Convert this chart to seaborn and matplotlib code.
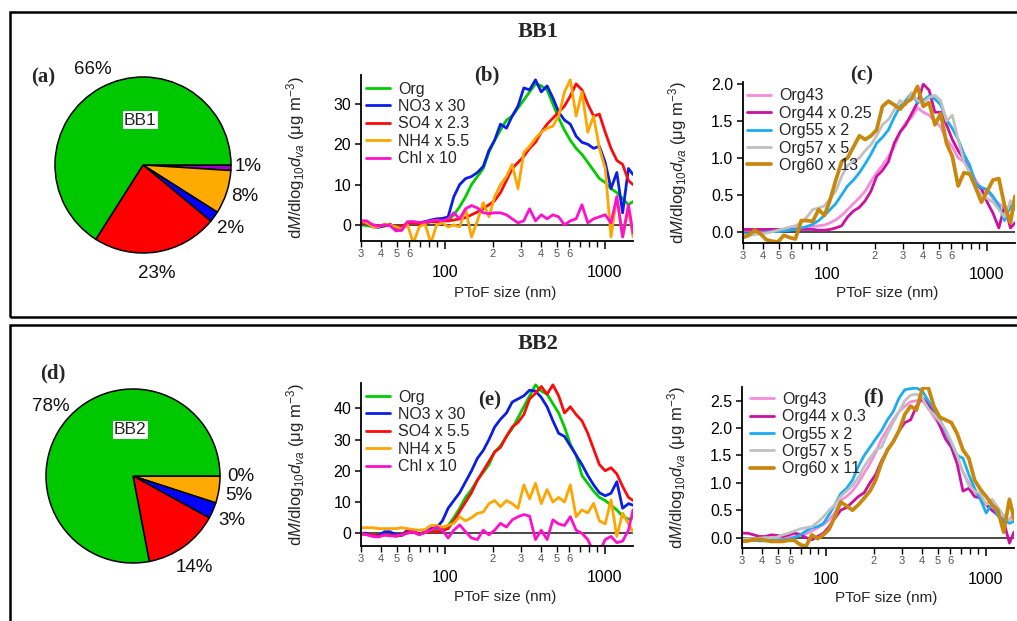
import numpy as np
import pandas as pd
import matplotlib
matplotlib.use("Agg")
import matplotlib.pyplot as plt
import seaborn as sns
from matplotlib.ticker import FixedLocator, FuncFormatter
from matplotlib.patches import Rectangle

sns.set_theme(style="ticks")
plt.rcParams["font.family"] = ["Liberation Sans", "DejaVu Sans"]
plt.rcParams["mathtext.fontset"] = "custom"
plt.rcParams["mathtext.rm"] = "Liberation Sans"
plt.rcParams["mathtext.it"] = "Liberation Sans:italic"
plt.rcParams["mathtext.bf"] = "Liberation Sans:bold"

# ---------------- data ----------------
size_nm = [30, 32.6, 35.5, 38.6, 42.0, 45.6, 49.6, 53.9, 58.6, 63.7, 69.3, 75.3,
           81.9, 89.0, 96.8, 105, 114, 124, 135, 147, 160, 174, 189, 205,
           223, 243, 264, 287, 312, 339, 369, 401, 436, 474, 515, 560,
           609, 662, 720, 783, 851, 925, 1006, 1093, 1189, 1292, 1405, 1500]

pie_species = ["Chl", "NH4", "NO3", "SO4", "Org"]
bb1_pct = [1, 8, 2, 23, 66]
bb2_pct = [0, 5, 3, 14, 78]
pie_colors = ["#A000C8", "#FFAA00", "#0000FF", "#FF0000", "#00C800"]

# panel (b) BB1 species
b_names = ["Org", "NO3 x 30", "SO4 x 2.3", "NH4 x 5.5", "Chl x 10"]
b_org = [0.0, -0.2, -0.4, -0.5, -0.3, 0.0, -0.8, -1.0, 0.2, 0.4, 0.3, 0.5, 0.8, 1.0, 1.2, 1.0,
         2.5, 4.5, 7.0, 10.0, 12.0, 14.0, 18.0, 21.0, 23.5, 26.0, 27.0, 29.0, 31.0, 33.0, 35.0, 34.5,
         33.5, 30.0, 26.5, 23.5, 21.0, 19.0, 17.5, 15.5, 13.5, 11.5, 10.5, 9.0, 8.0, 6.5, 5.0, 5.8]
b_no3 = [0.2, 0.3, -0.5, -0.6, -0.2, 0.2, -1.2, -1.3, 0.6, 0.7, 0.5, 0.8, 1.2, 1.5, 1.6, 2.0,
         7.0, 10.0, 11.5, 12.0, 13.0, 14.5, 18.5, 21.0, 25.0, 24.0, 27.0, 29.5, 34.0, 33.5, 36.0, 33.0,
         34.5, 31.5, 28.0, 26.0, 25.0, 22.0, 20.5, 20.0, 19.0, 19.5, 15.5, 9.0, 13.0, 3.0, 14.0, 12.5]
b_so4 = [0.5, 0.3, 0.0, -0.2, -0.2, 0.0, -0.5, -0.3, 0.3, 0.4, 0.3, 0.5, 0.8, 0.7, 1.0, 1.0,
         1.2, 1.5, 1.8, 2.5, 3.2, 4.0, 5.0, 6.0, 8.0, 11.0, 14.0, 15.5, 17.0, 19.0, 20.5, 23.0,
         25.0, 26.5, 28.0, 29.5, 32.0, 35.0, 33.5, 30.0, 27.0, 27.5, 23.0, 19.0, 16.0, 15.0, 11.0, 10.0]
b_nh4 = [1.0, 0.5, -0.5, -0.5, 0.2, 0.0, -0.5, -1.0, 0.0, -4.5, -0.5, 0.3, -4.5, 0.0, 0.5, -0.5,
         0.0, -0.5, 4.0, -3.0, 1.0, 5.5, 2.0, 7.0, 10.0, 12.0, 15.0, 9.0, 18.0, 19.5, 21.5, 23.0,
         24.0, 24.5, 27.0, 33.0, 36.0, 27.0, 33.0, 23.0, 27.0, 19.0, 14.0, -3.0, 7.0, -3.0, 4.0, -3.0]
b_chl = [1.0, 1.0, 0.0, -0.3, 0.0, -0.2, -1.5, -1.3, 0.8, 0.8, 0.6, 0.7, 1.0, 1.2, 1.0, 1.5,
         3.0, 1.5, 4.0, 4.8, 4.2, 3.0, 2.8, 3.0, 3.0, 2.5, 1.5, 0.5, 1.0, 4.0, 1.0, 2.5,
         1.5, 2.5, 2.0, 0.0, 1.0, 1.5, 5.0, 0.5, 1.5, 2.0, 2.5, 0.5, 7.0, -3.0, 5.0, -2.0]

# panel (c) BB1 organic fragments
c_names = ["Org43", "Org44 x 0.25", "Org55 x 2", "Org57 x 5", "Org60 x 13"]
c_org43 = [0.02, 0.02, 0.02, 0.02, 0.02, 0.03, 0.03, 0.03, 0.04, 0.05, 0.05, 0.06, 0.07, 0.08, 0.09, 0.12,
           0.16, 0.22, 0.30, 0.38, 0.46, 0.55, 0.68, 0.80, 0.90, 1.02, 1.15, 1.35, 1.48, 1.55, 1.68, 1.62,
           1.58, 1.50, 1.42, 1.25, 1.15, 1.00, 0.95, 0.85, 0.70, 0.58, 0.55, 0.45, 0.38, 0.32, 0.30, 0.45]
c_org44 = [0.03, 0.03, 0.03, 0.03, 0.03, 0.03, 0.03, 0.03, 0.03, 0.03, 0.03, 0.03, 0.03, 0.02, 0.02, 0.03,
           0.05, 0.08, 0.20, 0.28, 0.33, 0.42, 0.55, 0.75, 0.83, 0.95, 1.20, 1.35, 1.45, 1.60, 1.75, 2.00,
           1.92, 1.62, 1.62, 1.45, 1.25, 1.10, 0.98, 0.80, 0.65, 0.58, 0.40, 0.25, 0.05, 0.35, 0.05, 0.12]
c_org55 = [-0.03, -0.03, -0.02, -0.02, -0.01, 0.0, 0.0, 0.01, 0.02, 0.03, 0.05, 0.07, 0.10, 0.15, 0.22, 0.30,
           0.38, 0.50, 0.62, 0.70, 0.80, 0.92, 1.05, 1.20, 1.28, 1.38, 1.55, 1.70, 1.78, 1.88, 1.75, 1.78,
           1.84, 1.80, 1.72, 1.52, 1.40, 1.25, 1.05, 0.90, 0.65, 0.60, 0.57, 0.48, 0.35, 0.15, 0.35, 0.30]
c_org57 = [-0.05, -0.05, -0.04, -0.03, -0.02, 0.0, 0.02, 0.04, 0.06, 0.08, 0.12, 0.20, 0.30, 0.32, 0.35, 0.45,
           0.55, 0.75, 0.90, 0.95, 1.00, 1.10, 1.18, 1.30, 1.45, 1.52, 1.65, 1.78, 1.72, 1.88, 1.78, 1.75,
           1.82, 1.85, 1.78, 1.50, 1.58, 1.25, 0.95, 0.80, 0.60, 0.50, 0.45, 0.40, 0.30, 0.20, 0.42, 0.35]
c_org60 = [-0.08, -0.05, 0.02, -0.03, -0.11, -0.13, -0.14, -0.05, -0.08, -0.10, 0.15, 0.15, 0.14, 0.30, 0.22, 0.43,
           0.70, 0.95, 1.00, 1.15, 1.30, 1.25, 1.30, 1.38, 1.70, 1.77, 1.72, 1.66, 1.75, 1.80, 1.97, 1.70,
           1.75, 1.45, 1.60, 1.20, 1.02, 0.62, 0.80, 0.78, 0.60, 0.40, 0.55, 0.70, 0.72, 0.35, 0.12, 0.48]

# panel (e) BB2 species
e_names = ["Org", "NO3 x 30", "SO4 x 5.5", "NH4 x 5", "Chl x 10"]
e_org = [0.0, 0.0, -0.3, -0.8, -0.5, -0.8, -0.5, -0.8, 0.3, 0.5, -0.3, 0.2, 0.8, 1.0, 1.5, 2.5,
         5.0, 8.0, 11.5, 14.0, 17.0, 19.5, 22.0, 26.0, 28.0, 31.0, 33.5, 37.0, 40.5, 44.0, 47.5, 45.5,
         44.5, 41.5, 38.5, 34.0, 28.5, 25.0, 18.5, 16.0, 13.5, 11.5, 10.5, 9.0, 7.5, 5.5, 4.5, 5.0]
e_no3 = [0.0, 0.0, -0.5, -0.8, 0.5, 0.5, -0.5, -0.5, 1.0, 0.8, -0.3, 0.5, 1.5, 1.8, 4.0, 8.0,
         10.5, 13.0, 16.5, 20.0, 24.0, 26.5, 30.0, 34.0, 36.5, 38.5, 42.0, 43.0, 44.0, 45.8, 45.5, 43.5,
         40.5, 36.0, 32.0, 31.0, 28.0, 25.0, 22.0, 18.5, 15.5, 13.0, 12.0, 12.8, 16.5, 8.0, 9.5, 9.0]
e_so4 = [-0.3, -0.3, -0.5, -1.0, -0.5, -0.5, -1.0, -0.5, 0.5, 0.3, -0.3, 0.3, 0.5, 0.5, 0.8, 1.5,
         4.0, 7.0, 10.0, 13.0, 17.0, 20.0, 23.0, 26.0, 27.5, 31.0, 34.0, 35.5, 38.0, 43.0, 44.8, 47.0,
         44.5, 47.5, 44.0, 38.5, 40.5, 38.0, 36.0, 32.0, 27.0, 22.0, 20.0, 21.0, 19.0, 15.0, 11.5, 10.5]
e_nh4 = [1.8, 1.8, 1.8, 1.5, 1.5, 1.5, 1.5, 1.8, 1.5, 1.2, 1.0, 1.2, 2.5, 2.5, 2.0, 2.5,
         3.2, 5.3, 4.0, 5.0, 6.4, 6.8, 9.5, 10.5, 8.5, 10.5, 9.5, 8.0, 15.5, 11.0, 16.0, 9.5,
         14.0, 10.0, 11.5, 10.0, 15.5, 5.3, 7.5, 6.5, 9.6, 4.0, 3.0, 10.7, -1.0, 6.5, 3.0, 0.5]
e_chl = [0.0, -0.5, -1.0, -1.2, -0.5, -0.8, -0.8, -0.5, 0.0, 0.5, -0.5, 0.3, 1.0, 2.0, 1.0, -1.5,
         1.0, 2.7, 0.5, -1.5, -2.0, 1.0, -0.5, 1.0, 3.2, 2.0, 4.3, 5.3, 6.0, 5.5, -2.0, 1.0,
         -2.0, 4.3, 3.0, 2.5, 5.3, 1.0, 0.0, -2.0, -6.0, -6.0, -2.0, -1.0, -3.0, -2.5, 1.0, 7.5]

# panel (f) BB2 organic fragments
f_names = ["Org43", "Org44 x 0.3", "Org55 x 2", "Org57 x 5", "Org60 x 11"]
f_org43 = [-0.05, -0.04, -0.03, -0.02, -0.02, -0.01, 0.0, 0.0, 0.01, 0.02, 0.04, 0.07, 0.12, 0.18, 0.24, 0.32,
           0.45, 0.68, 0.75, 0.85, 1.00, 1.18, 1.35, 1.55, 1.80, 1.98, 2.15, 2.30, 2.40, 2.48, 2.50, 2.50,
           2.38, 2.20, 2.05, 1.85, 1.65, 1.42, 1.20, 1.00, 0.85, 0.72, 0.60, 0.50, 0.40, 0.35, 0.32, 0.45]
f_org44 = [0.08, 0.08, 0.05, 0.02, 0.02, 0.05, 0.04, 0.02, 0.05, 0.08, 0.06, 0.00, -0.04, 0.02, 0.08, 0.20,
           0.35, 0.50, 0.55, 0.65, 0.75, 0.82, 1.00, 1.15, 1.40, 1.60, 1.75, 1.95, 2.10, 2.15, 2.40, 2.55,
           2.45, 2.30, 2.05, 1.80, 1.65, 1.35, 0.85, 0.90, 0.75, 0.72, 0.60, 0.50, 0.42, 0.30, -0.10, 0.10]
f_org55 = [-0.05, -0.05, -0.05, -0.06, -0.06, -0.05, -0.05, -0.04, -0.03, 0.00, 0.05, 0.12, 0.18, 0.20, 0.26, 0.42,
           0.60, 0.80, 0.90, 1.05, 1.30, 1.50, 1.65, 1.80, 1.95, 2.15, 2.30, 2.55, 2.70, 2.72, 2.73, 2.68,
           2.50, 2.35, 2.15, 1.95, 1.72, 1.50, 1.45, 1.15, 0.90, 0.70, 0.45, 0.62, 0.40, 0.32, 0.26, 0.30]
f_org57 = [-0.03, -0.02, -0.02, -0.01, 0.00, 0.00, 0.01, 0.05, 0.08, 0.12, 0.16, 0.18, 0.20, 0.28, 0.38, 0.50,
           0.60, 0.75, 0.85, 0.95, 1.10, 1.30, 1.45, 1.60, 1.65, 1.90, 2.10, 2.30, 2.50, 2.60, 2.62, 2.55,
           2.35, 2.25, 2.12, 1.98, 1.75, 1.50, 1.20, 0.95, 0.85, 0.80, 0.60, 0.70, 0.55, 0.40, 0.32, 0.35]
f_org60 = [-0.07, -0.06, -0.04, -0.03, -0.05, -0.07, -0.07, -0.07, -0.05, -0.05, -0.13, -0.16, 0.05, -0.02, 0.05, 0.15,
           0.38, 0.65, 0.58, 0.50, 0.60, 0.72, 0.85, 1.05, 1.36, 1.60, 1.75, 1.95, 2.25, 2.40, 2.33, 2.72,
           2.75, 2.40, 2.20, 2.15, 2.10, 1.90, 1.60, 1.45, 1.05, 0.88, 0.75, 0.60, 0.50, 0.10, 0.70, 0.35]

species_colors = ["#00CC00", "#0A1EE8", "#FF0A0A", "#FFA500", "#FF10CC"]
frag_colors = ["#F58CDC", "#CC10A0", "#1AAEF0", "#C0C0C0", "#C8880E"]

# ---------------- figure ----------------
W, H = 1017, 621
fig = plt.figure(figsize=(W / 100, H / 100), dpi=100)
fig.patch.set_facecolor("white")


def px_axes(left, top, right, bottom):
    return fig.add_axes([left / W, 1 - bottom / H, (right - left) / W, (bottom - top) / H])


SERIF = ["Liberation Serif", "DejaVu Serif"]

# boxes
fig.add_artist(Rectangle((10 / W, 1 - 317 / H), 1030 / W, 305 / H, transform=fig.transFigure,
                         fill=False, lw=1.8, ec="black", clip_on=False))
fig.add_artist(Rectangle((10 / W, 1 - 650 / H), 1030 / W, 325 / H, transform=fig.transFigure,
                         fill=False, lw=1.8, ec="black", clip_on=False))

fig.text(538 / W, 1 - 32 / H, "BB1", ha="center", va="center", fontsize=16, fontweight="bold", family=SERIF)
fig.text(538 / W, 1 - 344 / H, "BB2", ha="center", va="center", fontsize=16, fontweight="bold", family=SERIF)


def draw_pie(cx, cy, r, pct, label_pos, name, name_pos):
    half = 1.5 * r
    ax = px_axes(cx - half, cy - half, cx + half, cy + half)
    ax.pie(pct, colors=pie_colors, startangle=0, counterclock=False,
           wedgeprops=dict(edgecolor="black", linewidth=1.1))
    ax.set_xlim(-1.5, 1.5)
    ax.set_ylim(-1.5, 1.5)
    ax.set_aspect("equal")
    ax.axis("off")
    for p, (x, y) in zip(pct, label_pos):
        ax.text(x, y, f"{p}%", ha="center", va="center", fontsize=13.5, color="#111111")
    ax.text(name_pos[0], name_pos[1], name, ha="center", va="center", fontsize=12.5,
            bbox=dict(facecolor="white", edgecolor="none", pad=1.0))
    return ax


draw_pie(143, 165, 88, bb1_pct,
         [(1.19, -0.02), (1.16, -0.36), (0.99, -0.72), (0.16, -1.23), (-0.57, 1.09)],
         "BB1", (-0.03, 0.51))
draw_pie(133, 476, 87, bb2_pct,
         [(1.24, -0.01), (1.21, -0.22), (1.14, -0.51), (0.71, -1.05), (-0.95, 0.80)],
         "BB2", (-0.03, 0.53))

minor_ticks = [30, 40, 50, 60, 70, 80, 90, 200, 300, 400, 500, 600, 700, 800, 900]
minor_text = {30: "3", 40: "4", 50: "5", 60: "6", 200: "2", 300: "3", 400: "4", 500: "5", 600: "6"}
ylab = r"d$\mathit{M}$/dlog$_{10}$$\mathit{d}_{va}$ (μg m$^{-3}$)"


def line_panel(box, series, names, colors, ylim, yticks, yfmt, leg_anchor, thick_last):
    ax = px_axes(*box)
    n = len(size_nm)
    df = pd.DataFrame({
        "size": np.tile(np.array(size_nm, dtype=float), len(names)),
        "value": np.concatenate([np.array(s, dtype=float) for s in series]),
        "series": np.repeat(names, n),
    })
    sns.lineplot(data=df, x="size", y="value", hue="series", hue_order=names,
                 palette=dict(zip(names, colors)), linewidth=2.0, estimator=None,
                 sort=False, ax=ax)
    for i, ln in enumerate(ax.lines[:len(names)]):
        if thick_last and i == len(names) - 1:
            ln.set_linewidth(2.7)
    ax.axhline(0, color="#3a3a3a", lw=1.3, zorder=1.5)
    ax.set_xscale("log")
    ax.set_xlim(30, 1500)
    ax.set_ylim(*ylim)
    ax.xaxis.set_major_locator(FixedLocator([100, 1000]))
    ax.xaxis.set_major_formatter(FuncFormatter(lambda v, p: f"{int(round(v))}"))
    ax.xaxis.set_minor_locator(FixedLocator(minor_ticks))
    ax.xaxis.set_minor_formatter(FuncFormatter(lambda v, p: minor_text.get(int(round(v)), "")))
    ax.set_yticks(yticks)
    ax.yaxis.set_major_formatter(FuncFormatter(lambda v, p: yfmt.format(v)))
    ax.tick_params(axis="x", which="major", length=6, width=1.1, pad=11, labelsize=11.5, colors="black")
    ax.tick_params(axis="x", which="minor", length=4, width=1.0, pad=2, labelsize=8,
                   labelcolor="#555555", color="black")
    ax.tick_params(axis="y", which="major", length=4, width=1.1, pad=3, labelsize=11.5, colors="black")
    sns.despine(ax=ax)
    for sp in ("left", "bottom"):
        ax.spines[sp].set_linewidth(1.3)
        ax.spines[sp].set_color("black")
    ax.set_facecolor("none")
    ax.set_xlabel("PToF size (nm)", fontsize=11)
    ax.set_ylabel(ylab, fontsize=12)
    ax.xaxis.set_label_coords(0.53, -0.27)
    ax.yaxis.set_label_coords(-0.20, 0.5)
    old = ax.get_legend()
    handles = old.legend_handles
    labels = [t.get_text() for t in old.texts]
    old.remove()
    for i, h in enumerate(handles):
        h.set_linewidth(2.7 if (thick_last and i == len(handles) - 1) else 2.0)
    ax.legend(handles, labels, loc="upper left", bbox_to_anchor=leg_anchor, frameon=False,
              fontsize=11.5, handlelength=1.5, handletextpad=0.5, labelspacing=0.15,
              borderpad=0, borderaxespad=0)
    return ax


line_panel((361, 75, 633, 241), [b_org, b_no3, b_so4, b_nh4, b_chl], b_names, species_colors,
           (-4.0, 37.2), [0, 10, 20, 30], "{:.0f}", (0.02, 0.96), False)
line_panel((743, 82, 1015, 243), [c_org43, c_org44, c_org55, c_org57, c_org60], c_names, frag_colors,
           (-0.154, 2.03), [0.0, 0.5, 1.0, 1.5, 2.0], "{:.1f}", (0.015, 0.96), True)
line_panel((361, 383, 633, 546), [e_org, e_no3, e_so4, e_nh4, e_chl], e_names, species_colors,
           (-4.06, 48.1), [0, 10, 20, 30, 40], "{:.0f}", (0.02, 0.96), False)
line_panel((742, 387, 1014, 548), [f_org43, f_org44, f_org55, f_org57, f_org60], f_names, frag_colors,
           (-0.19, 2.75), [0.0, 0.5, 1.0, 1.5, 2.0, 2.5], "{:.1f}", (0.03, 0.97), True)

for lab, x, y in [("(a)", 43, 77), ("(b)", 487, 75), ("(c)", 862, 75),
                  ("(d)", 53, 373), ("(e)", 490, 400), ("(f)", 873, 397)]:
    fig.text(x / W, 1 - y / H, lab, ha="center", va="center", fontsize=15,
             fontweight="bold", family=SERIF)

fig.savefig("out.png", dpi=100, facecolor="white")
